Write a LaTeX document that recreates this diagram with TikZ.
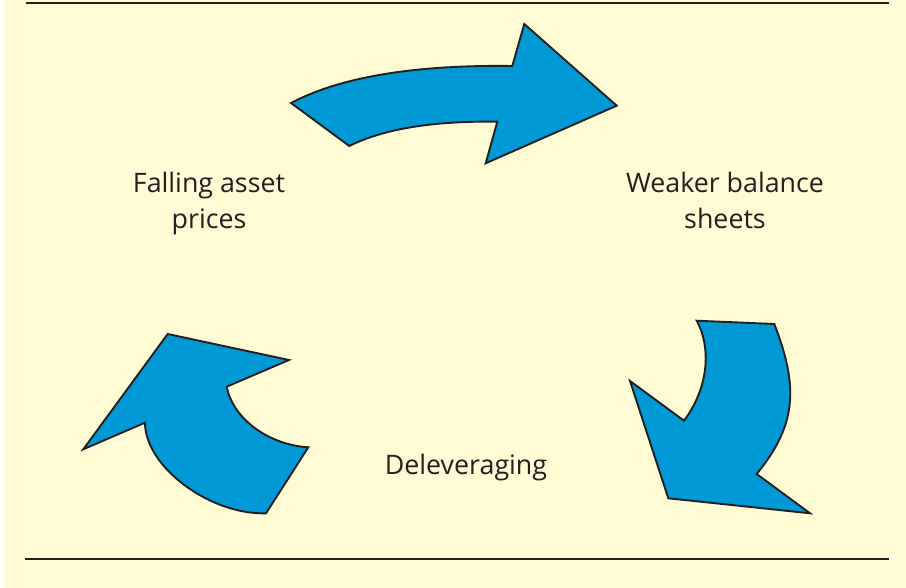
\documentclass[tikz,border=0pt]{standalone}
\usepackage{fontspec}
\setmainfont{Open Sans}
\definecolor{bgyellow}{RGB}{255,251,212}
\definecolor{arrowblue}{RGB}{0,153,214}
\definecolor{inkdark}{RGB}{35,31,32}
\begin{document}
\begin{tikzpicture}[x=1pt,y=-1pt,
  cyclearrow/.style={fill=arrowblue,draw=inkdark,line width=1.9pt,line join=miter},
  rule/.style={draw=inkdark,line width=2.6pt},
  label/.style={align=center,font=\fontsize{26.8}{36}\selectfont,text=inkdark,inner sep=0pt,anchor=base}]
\fill[white] (0,0) rectangle (906,588);
\fill[bgyellow] (4,0) rectangle (906,588);
\useasboundingbox (0,0) rectangle (906,588);
\coordinate (rl1) at (26,3);
\coordinate (rr1) at (889,3);
\coordinate (rl2) at (25,559);
\coordinate (rr2) at (889,559);
\draw[rule] (rl1) -- (rr1);
\draw[rule] (rl2) -- (rr2);
% top arrow
\draw[cyclearrow] (291,103) -- (349.3,146) .. controls (383.6,128.9) and (432.9,120.8) .. (497.3,121.7)
  -- (485.7,163.3) -- (616.7,105.7) -- (524.3,24) -- (512.3,66)
  .. controls (414.1,64.7) and (340.3,77) .. cycle;
% right arrow
\draw[cyclearrow] (696.7,320.7) -- (774.3,324)
  .. controls (800,390) and (795,426.7) .. (756.7,474)
  -- (810,513.3) -- (668.3,498.3) -- (630,381) -- (684,420.7)
  .. controls (708.3,388.3) and (711.7,348.3) .. cycle;
% left arrow
\draw[cyclearrow] (83.3,449.3) -- (167.7,334) -- (289,360) -- (226.7,386.7)
  .. controls (233.3,420) and (270,445) .. (308.3,447.3)
  -- (266,513.3)
  .. controls (210,515) and (145,466.7) .. (145,422.7) -- cycle;
\node[label] (fall) at (209,228.5) {Falling asset\\prices};
\node[label] (weak) at (725,228.5) {Weaker balance\\sheets};
\node[label] (delev) at (466,474.3) {Deleveraging};
\end{tikzpicture}
\end{document}
